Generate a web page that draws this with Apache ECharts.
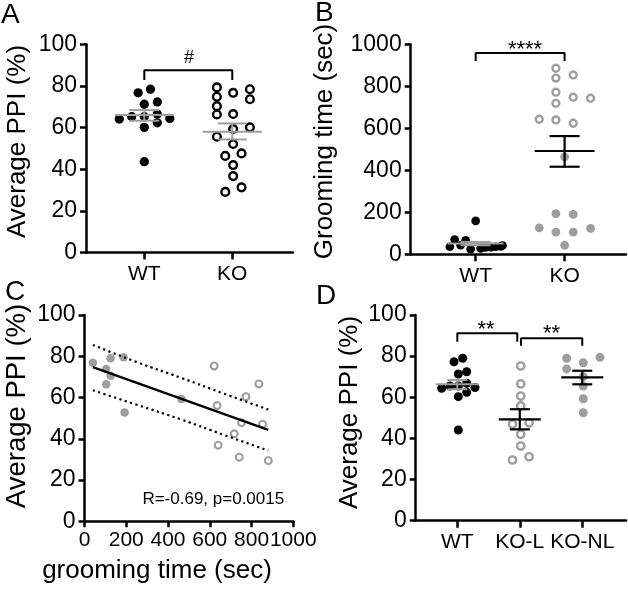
<!DOCTYPE html>
<html><head><meta charset="utf-8">
<script src="https://cdn.jsdelivr.net/npm/echarts@6/dist/echarts.min.js"></script>
<style>html,body{margin:0;padding:0;background:#fff}#c{width:628px;height:593px}</style>
</head><body><div id="c"></div>
<script>
const FONT = "'Liberation Sans', Arial, Helvetica, sans-serif";
const GRAY = '#9e9e9e';

// ---------- categories and tick labels ----------
const groupsAB = ['WT', 'KO'];
const groupsD = ['WT', 'KO-L', 'KO-NL'];
const ticksPPI = [0, 20, 40, 60, 80, 100];
const ticksGroom = [0, 200, 400, 600, 800, 1000];

// ---------- Panel A: Average PPI (%) ----------
const ppiA_WT = [76.7, 78.4, 71.2, 72.3, 64.1, 65.2, 65.2, 66.5, 64.4, 60.1, 62.3, 43.6];
const jitA_WT = [-0.07, 0.07, 0, 0.148, -0.284, -0.143, 0, 0.148, 0.29, 0, 0.148, 0];
const ppiA_KO = [79.3, 74.8, 70.3, 66.3, 76.7, 66.5, 59.3, 52.1, 42.0, 36.7, 78.4, 73.6, 60.1, 55.6, 46.4, 29.1, 47.6, 31.3];
const jitA_KO = [-0.175, -0.175, -0.175, -0.175, 0.01, 0.01, 0.01, 0.01, 0.01, 0.01, 0.2, 0.2, 0.2, -0.175, -0.08, -0.08, 0.105, 0.105];
const statA = [[66.0, 63.3, 68.4], [58.0, 54.3, 62.0]]; // mean, lower SEM, upper SEM
const bracketA = [1, 2, 87.5, 82.8];

// ---------- Panel B: Grooming time (sec) ----------
const groomB_WT = [159, 70, 67, 36, 43, 25, 28, 33, 34, 36, 38, 42];
const jitB_WT = [0, -0.236, -0.112, -0.29, -0.169, -0.056, 0.056, 0.112, 0.169, 0.225, 0.281, 0.303];
const groomB_KOL = [886, 839, 854, 772, 719, 748, 743, 643, 640, 624];
const jitB_KOL = [-0.098, -0.098, 0.097, -0.098, -0.098, 0.097, 0.292, -0.285, -0.098, 0.097];
const groomB_KONL = [194, 190, 126, 106, 106, 123, 43, 464];
const jitB_KONL = [-0.098, 0.097, -0.285, -0.098, 0.097, 0.292, 0, 0];
const statB = [[51, 43, 59], [492, 417, 563]];
const bracketB = [1, 2, 958, 921];

// ---------- Panel C: PPI vs grooming time ----------
const groomC_NL = [40, 104, 125, 104, 125, 187, 192, 464];
const ppiC_NL = [76.9, 73.8, 79.0, 66.4, 70.6, 79.5, 52.7, 59.3];
const groomC_L = [621, 635, 640, 717, 741, 752, 773, 835, 853, 880];
const ppiC_L = [75.3, 56.1, 36.9, 42.4, 31.1, 47.8, 60.4, 66.6, 47.1, 29.4];
const fitX = [40, 880];
const fitY = [74.7, 44.3];
const bandX = [40, 250, 464, 670, 880];
const bandUpper = [85.5, 77.2, 69.5, 61.8, 54.2];
const bandLower = [63.5, 56.5, 49.3, 41.8, 34.3];

// ---------- Panel D: Average PPI (%) by subgroup ----------
const ppiD_WT = [77.3, 79.0, 71.3, 72.4, 64.4, 65.5, 65.5, 66.8, 64.7, 60.3, 62.4, 44.1];
const jitD_WT = [-0.053, 0.086, 0.016, 0.15, -0.25, -0.117, 0.016, 0.15, 0.283, 0.016, 0.15, 0.016];
const ppiD_L = [75.2, 66.5, 60.6, 55.8, 46.9, 47.6, 42.0, 36.3, 29.5, 31.1];
const jitD_L = [0.016, 0.016, 0.016, 0.016, -0.117, 0.149, 0.016, 0.016, -0.117, 0.149];
const ppiD_NL = [79.0, 76.8, 79.4, 73.8, 70.0, 65.5, 59.3, 52.5];
const jitD_NL = [-0.25, 0.016, 0.283, -0.25, 0.016, 0.016, 0.016, 0.016];
const statD = [[66.3, 63.9, 68.4], [49.3, 44.4, 54.2], [69.7, 66.3, 72.9]];
const bracketD1 = [1, 1.96, 91.1, 87.0];
const bracketD2 = [2.02, 3, 88.7, 85.0];

// ---------- helpers ----------
const axLine = {show: true, onZero: false, lineStyle: {color: '#000', width: 2.5}};
function tickCfg(vals, len) {
  return {show: true, customValues: vals, length: len, lineStyle: {color: '#000', width: 2.5}};
}
function labelCfg(vals, size, margin, fmt) {
  return {
    show: true, customValues: vals, color: '#000', fontSize: size, fontFamily: FONT, margin: margin,
    formatter: v => fmt(v)
  };
}
function catX(gi, min, max, labels) {
  const vals = labels.map((_, i) => i + 1);
  return {
    gridIndex: gi, type: 'value', min: min, max: max,
    axisLine: axLine, axisTick: tickCfg(vals, 7),
    axisLabel: labelCfg(vals, 21, 11, v => labels[Math.round(v) - 1]),
    splitLine: {show: false}
  };
}
function valAxis(gi, ticks, size, margin) {
  return {
    gridIndex: gi, type: 'value', min: ticks[0], max: ticks[ticks.length - 1],
    axisLine: axLine, axisTick: tickCfg(ticks, 6),
    axisLabel: labelCfg(ticks, size, margin, v => String(Math.round(v))),
    splitLine: {show: false}
  };
}
function dots(gi, center, vals, jit, filled, color, size) {
  return {
    type: 'scatter', xAxisIndex: gi, yAxisIndex: gi, z: 3,
    symbol: 'circle', symbolSize: filled ? size : size - 2.3,
    itemStyle: filled ? {color: color, opacity: 1} : {color: '#fff', borderColor: color, borderWidth: 2.4, opacity: 1},
    data: vals.map((v, i) => [center + jit[i], v])
  };
}
function xyDots(gi, xs, ys, filled, color, size) {
  return {
    type: 'scatter', xAxisIndex: gi, yAxisIndex: gi, z: 3,
    symbol: 'circle', symbolSize: filled ? size : size - 2.1,
    itemStyle: filled ? {color: color, opacity: 1} : {color: '#fff', borderColor: color, borderWidth: 2.1, opacity: 1},
    data: xs.map((x, i) => [x, ys[i]])
  };
}
function meanSem(gi, x, stat, color, halfMean, halfCap, lw) {
  return {
    type: 'custom', xAxisIndex: gi, yAxisIndex: gi, z: 6,
    data: [[x, stat[0], stat[1], stat[2]]],
    renderItem: function (params, api) {
      const xv = api.value(0);
      const m = api.coord([xv, api.value(1)]);
      const lo = api.coord([xv, api.value(2)]);
      const hi = api.coord([xv, api.value(3)]);
      const st = {stroke: color, lineWidth: lw, fill: null};
      return {type: 'group', children: [
        {type: 'line', shape: {x1: m[0] - halfMean, y1: m[1], x2: m[0] + halfMean, y2: m[1]}, style: st},
        {type: 'line', shape: {x1: lo[0] - halfCap, y1: lo[1], x2: lo[0] + halfCap, y2: lo[1]}, style: st},
        {type: 'line', shape: {x1: hi[0] - halfCap, y1: hi[1], x2: hi[0] + halfCap, y2: hi[1]}, style: st},
        {type: 'line', shape: {x1: lo[0], y1: lo[1], x2: hi[0], y2: hi[1]}, style: st}
      ]};
    }
  };
}
function bracket(gi, b) {
  return {
    type: 'line', xAxisIndex: gi, yAxisIndex: gi, z: 4, symbol: 'none',
    lineStyle: {color: '#000', width: 2},
    data: [[b[0], b[3]], [b[0], b[2]], [b[1], b[2]], [b[1], b[3]]]
  };
}
function txt(s, x, y, size, align, rot) {
  return {
    type: 'text', x: x, y: y, rotation: rot || 0, z: 10,
    style: {text: s, font: size + 'px ' + FONT, fill: '#000', align: align || 'center', verticalAlign: 'middle'}
  };
}

const series = [];
// A
series.push(dots(0, 1, ppiA_WT, jitA_WT, true, '#000', 9.3));
series.push(dots(0, 2, ppiA_KO, jitA_KO, false, '#000', 10));
series.push(meanSem(0, 1, statA[0], GRAY, 29.5, 15, 2));
series.push(meanSem(0, 2, statA[1], GRAY, 29.5, 14.5, 2));
series.push(bracket(0, bracketA));
// B
series.push(dots(1, 1, groomB_WT, jitB_WT, true, '#000', 8.7));
series.push(dots(1, 2, groomB_KOL, jitB_KOL, false, GRAY, 9.2));
series.push(dots(1, 2, groomB_KONL, jitB_KONL, true, GRAY, 8.8));
series.push(meanSem(1, 1, statB[0], GRAY, 28, 15, 2));
series.push(meanSem(1, 2, statB[1], '#000', 30, 15, 2.2));
series.push(bracket(1, bracketB));
// C
series.push(xyDots(2, groomC_NL, ppiC_NL, true, GRAY, 8.5));
series.push(xyDots(2, groomC_L, ppiC_L, false, GRAY, 9));
series.push({type: 'line', xAxisIndex: 2, yAxisIndex: 2, z: 4, symbol: 'none',
  lineStyle: {color: '#000', width: 2.3}, data: fitX.map((x, i) => [x, fitY[i]])});
series.push({type: 'line', xAxisIndex: 2, yAxisIndex: 2, z: 4, symbol: 'none', smooth: true,
  lineStyle: {color: '#000', width: 2.2, type: [2.2, 3.4]}, data: bandX.map((x, i) => [x, bandUpper[i]])});
series.push({type: 'line', xAxisIndex: 2, yAxisIndex: 2, z: 4, symbol: 'none', smooth: true,
  lineStyle: {color: '#000', width: 2.2, type: [2.2, 3.4]}, data: bandX.map((x, i) => [x, bandLower[i]])});
// D
series.push(dots(3, 1, ppiD_WT, jitD_WT, true, '#000', 9));
series.push(dots(3, 2, ppiD_L, jitD_L, false, GRAY, 9.6));
series.push(dots(3, 3, ppiD_NL, jitD_NL, true, GRAY, 9));
series.push(meanSem(3, 1, statD[0], GRAY, 21.5, 10, 2));
series.push(meanSem(3, 2, statD[1], '#000', 21, 10, 2.2));
series.push(meanSem(3, 3, statD[2], '#000', 21, 10, 2.2));
series.push(bracket(3, bracketD1));
series.push(bracket(3, bracketD2));

const gridBase = {outerBoundsMode: 'none', containLabel: false};
const option = {
  animation: false,
  backgroundColor: '#fff',
  grid: [
    Object.assign({left: 86, top: 44.3, width: 207, height: 208.2}, gridBase),
    Object.assign({left: 410.7, top: 44.3, width: 215.3, height: 210}, gridBase),
    Object.assign({left: 84.5, top: 315, width: 208.8, height: 206.3}, gridBase),
    Object.assign({left: 415.7, top: 315, width: 210.3, height: 205.7}, gridBase)
  ],
  xAxis: [
    catX(0, 0.3375, 2.69, groupsAB),
    catX(1, 0.27, 2.69, groupsAB),
    valAxis(2, ticksGroom, 21, 8),
    catX(3, 0.334, 3.70, groupsD)
  ],
  yAxis: [valAxis(0, ticksPPI, 23, 9), valAxis(1, ticksGroom, 23, 9), valAxis(2, ticksPPI, 23, 9), valAxis(3, ticksPPI, 23, 9)],
  series: series,
  graphic: [
    txt('A', 1, 15, 28, 'left'),
    txt('B', 315, 13, 28, 'left'),
    txt('C', 5, 292, 28, 'left'),
    txt('D', 316, 296, 28, 'left'),
    txt('Average PPI (%)', 18, 141.5, 26, 'center', Math.PI / 2),
    txt('Grooming time (sec)', 325, 141.5, 26, 'center', Math.PI / 2),
    txt('Average PPI (%)', 17, 406, 27.5, 'center', Math.PI / 2),
    txt('Average PPI (%)', 350, 412.5, 26, 'center', Math.PI / 2),
    txt('grooming time (sec)', 157, 571, 26, 'center'),
    txt('#', 189, 58, 18),
    txt('****', 525, 50, 22),
    txt('**', 486, 330, 22),
    txt('**', 551.5, 334, 22),
    txt('R=-0.69, p=0.0015', 213.3, 499.3, 17)
  ]
};
const chart = echarts.init(document.getElementById('c'), null, {renderer: 'canvas'});
chart.setOption(option);
</script>
</body></html>
